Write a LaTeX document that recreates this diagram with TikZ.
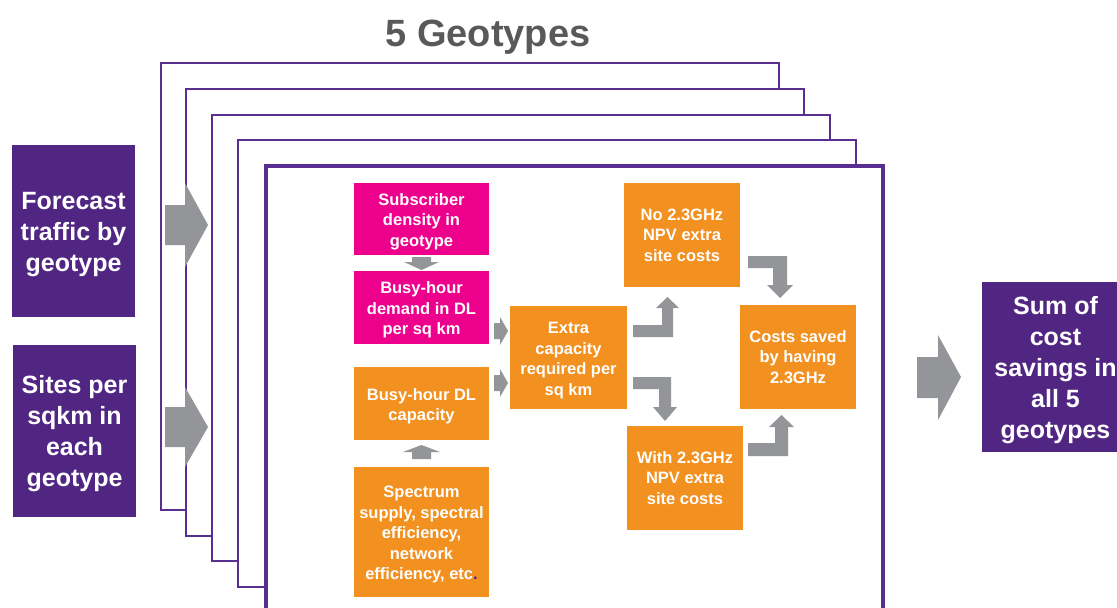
\documentclass[tikz,border=0pt]{standalone}
\usepackage{fontspec}
\setmainfont{Liberation Sans}
\definecolor{geoPurple}{RGB}{81,38,131}
\definecolor{framePurple}{RGB}{88,46,145}
\definecolor{geoPink}{RGB}{236,0,140}
\definecolor{geoOrange}{RGB}{242,144,32}
\definecolor{arrowGray}{RGB}{147,149,152}
\definecolor{titleGray}{RGB}{89,89,89}
% struts that lower the first line of box text a little
\newcommand{\liftS}{\rule{0pt}{17pt}}
\newcommand{\liftB}{\rule{0pt}{23.5pt}}
\tikzset{
  box/.style={inner sep=0pt, align=center, text=white,
    font=\fontsize{16.5}{20.5}\selectfont\bfseries},
  bigbox/.style={box, fill=geoPurple, font=\fontsize{25}{31}\selectfont\bfseries},
  pinkbox/.style={box, fill=geoPink},
  orangebox/.style={box, fill=geoOrange},
  geoframe/.style={draw=framePurple, fill=white, line width=2pt},
  frontframe/.style={geoframe, line width=3.6pt},
  blockarrow/.style={fill=arrowGray},
}
\begin{document}
\begin{tikzpicture}[x=1pt,y=-1pt]
\useasboundingbox (0,0) rectangle (1117,608);
\clip (0,0) rectangle (1117,608);

% title
\node[font=\fontsize{38}{44}\selectfont\bfseries, text=titleGray] (title) at (488,37) {5 Geotypes};

% stack of geotype sheets, back to front
\draw[geoframe] (161,63) rectangle (779,510);
\draw[geoframe] (186,89) rectangle (804,536);
\draw[geoframe] (212,115) rectangle (830,561);
\draw[geoframe] (238,140) rectangle (856,587);
\draw[frontframe] (266,166) rectangle (883,650);

% inputs and output
\node[bigbox, minimum width=123pt, minimum height=172pt] (fc) at (73.5,231) {\liftB Forecast\\traffic by\\geotype};
\node[bigbox, minimum width=123pt, minimum height=172pt] (sites) at (74.5,431) {\liftB Sites per\\sqkm in\\each\\geotype};
\node[bigbox, minimum width=147pt, minimum height=170pt] (sum) at (1055.5,367) {\liftB Sum of\\cost\\savings in\\all 5\\geotypes};

% input arrows into the sheets, output arrow
\fill[blockarrow] (165,205) -- (185,205) -- (185,183) -- (208,225) -- (185,267) -- (185,245) -- (165,245) -- cycle;
\fill[blockarrow] (165,407) -- (185,407) -- (185,387) -- (208,427) -- (185,467) -- (185,447) -- (165,447) -- cycle;
\fill[blockarrow] (917,357) -- (938,357) -- (938,335) -- (961,377) -- (938,420) -- (938,398) -- (917,398) -- cycle;

% model inside one geotype
\node[pinkbox, minimum width=135pt, minimum height=72pt] (sub) at (421.5,219) {\liftS Subscriber\\density in\\geotype};
\node[pinkbox, minimum width=135pt, minimum height=73pt] (dem) at (421.5,307.5) {\liftS Busy-hour\\demand in DL\\per sq km};
\node[orangebox, minimum width=135pt, minimum height=73pt] (cap) at (421.5,403.5) {\liftS Busy-hour DL\\capacity};
\node[orangebox, minimum width=135pt, minimum height=130pt] (spec) at (421.5,532) {\liftS Spectrum\\supply, spectral\\efficiency,\\network\\efficiency, etc{\color{geoPurple}.}};
\node[orangebox, minimum width=117pt, minimum height=103pt] (extra) at (568.5,357.5) {\liftS Extra\\capacity\\required per\\sq km};
\node[orangebox, minimum width=116pt, minimum height=104pt] (no) at (682,235) {No 2.3GHz\\NPV extra\\site costs};
\node[orangebox, minimum width=116pt, minimum height=104pt] (with) at (685,478) {With 2.3GHz\\NPV extra\\site costs};
\node[orangebox, minimum width=116pt, minimum height=104pt] (costs) at (798,357) {Costs saved\\by having\\2.3GHz};

% sub -> dem (down)
\fill[blockarrow] (412,257) -- (431,257) -- (431,262) -- (439,262) -- (421.5,270) -- (404,262) -- (412,262) -- cycle;
% spec -> cap (up)
\fill[blockarrow] (412,459) -- (431,459) -- (431,452) -- (440,452) -- (421.5,445) -- (403,452) -- (412,452) -- cycle;
% dem -> extra, cap -> extra
\fill[blockarrow] (494,323) -- (500,323) -- (500,317) -- (508,331) -- (500,345) -- (500,339) -- (494,339) -- cycle;
\fill[blockarrow] (494,375) -- (500,375) -- (500,369) -- (508,383) -- (500,397) -- (500,391) -- (494,391) -- cycle;
% extra -> no (bent up)
\fill[blockarrow] (633,325) -- (662,325) -- (662,308) -- (656,308) -- (667.5,297) -- (679,308) -- (673,308) -- (673,337) -- (633,337) -- cycle;
% extra -> with (bent down)
\fill[blockarrow] (633,377) -- (671,377) -- (671,407) -- (677,407) -- (665,421) -- (653,407) -- (659,407) -- (659,389) -- (633,389) -- cycle;
% no -> costs (bent down)
\fill[blockarrow] (748,256) -- (787,256) -- (787,285) -- (793,285) -- (780,298) -- (767,285) -- (773,285) -- (773,268) -- (748,268) -- cycle;
% with -> costs (bent up)
\fill[blockarrow] (748,456) -- (788,456) -- (788,427) -- (794,427) -- (781.5,415) -- (769,427) -- (775,427) -- (775,443) -- (748,443) -- cycle;
\end{tikzpicture}
\end{document}
